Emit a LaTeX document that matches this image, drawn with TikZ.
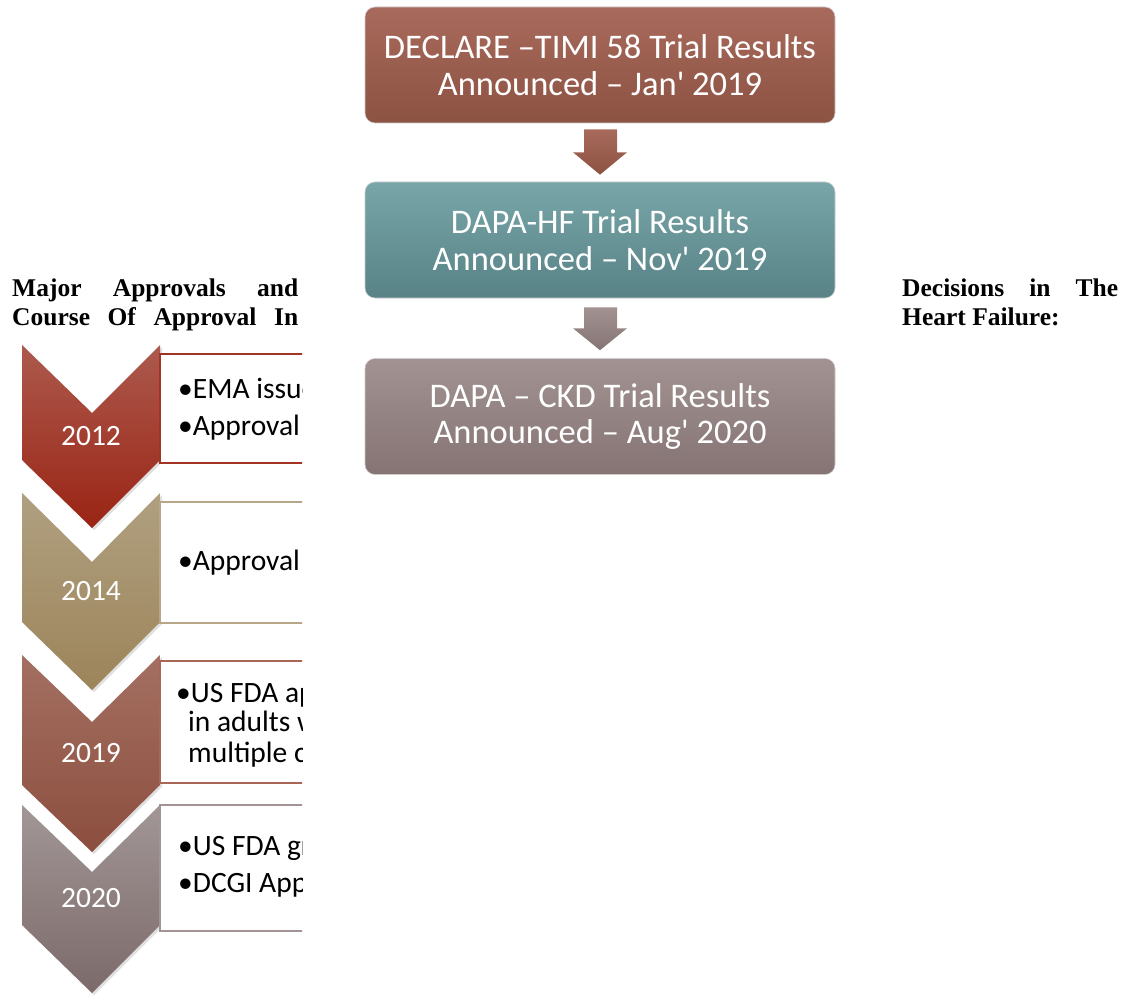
\documentclass[tikz,border=0pt]{standalone}
\usepackage{fontspec}
\setmainfont{Liberation Serif}
\newfontfamily\calf{Carlito}
\usetikzlibrary{calc,shadows}
\definecolor{chAt}{HTML}{AC5A4E}\definecolor{chAb}{HTML}{9A2414}
\definecolor{chBt}{HTML}{B0A080}\definecolor{chBb}{HTML}{9C845A}
\definecolor{chCt}{HTML}{A47062}\definecolor{chCb}{HTML}{8C4E3E}
\definecolor{chDt}{HTML}{A29696}\definecolor{chDb}{HTML}{7C6A6A}
\definecolor{bxA}{HTML}{A33424}\definecolor{bxB}{HTML}{B8A688}
\definecolor{bxC}{HTML}{A86656}\definecolor{bxD}{HTML}{A09494}
\definecolor{flAt}{HTML}{A86A5C}\definecolor{flAb}{HTML}{8C5242}
\definecolor{flBt}{HTML}{78A6A8}\definecolor{flBb}{HTML}{588286}
\definecolor{flCt}{HTML}{A29292}\definecolor{flCb}{HTML}{867474}
\tikzset{
  chev/.style={drop shadow={opacity=0.25,shadow xshift=2pt,shadow yshift=-2pt}},
  year/.style={font=\calf\fontsize{29.5}{34}\selectfont, text=white, inner sep=0pt, anchor=base},
  line/.style={font=\calf\fontsize{29.5}{34}\selectfont, text=black, inner sep=0pt, anchor=base west},
  tbox/.style={line width=1.2pt, fill=white},
  flow/.style={rounded corners=10pt, minimum width=470pt, minimum height=116pt, text=white,
    align=center, font=\calf\fontsize{34.5}{36.5}\selectfont, draw=white!60!gray, line width=0.6pt},
  title/.style={font=\bfseries\fontsize{25.5}{29}\selectfont, inner sep=0pt, anchor=base west},
}
\begin{document}
\begin{tikzpicture}[x=1pt,y=-1pt]
\useasboundingbox (0,0) rectangle (1127,995);
\fill[white] (0,0) rectangle (1127,995);

% title
\node[title] (t1) at (12,296) {\makebox[286pt][s]{Major Approvals and}};
\node[title] (t2) at (12,325) {\makebox[286pt][s]{Course Of Approval In}};
\node[title] (t3) at (902,296) {\makebox[216pt][s]{Decisions in The}};
\node[title] (t4) at (902,325) {Heart Failure:};

% left timeline
\begin{scope}
\clip (0,330) rectangle (302,995);
% chevrons
\path[chev, top color=chDt, bottom color=chDb] (22,805) -- (92,872) -- (160,805) -- (160,925) -- (92,993) -- (22,925) -- cycle;
\path[chev, top color=chCt, bottom color=chCb] (22,655) -- (92,722) -- (160,655) -- (160,785) -- (92,852) -- (22,785) -- cycle;
\path[chev, top color=chBt, bottom color=chBb] (22,493) -- (92,562) -- (160,493) -- (160,622) -- (92,690) -- (22,622) -- cycle;
\path[chev, top color=chAt, bottom color=chAb] (22,345) -- (92,413) -- (160,345) -- (160,460) -- (92,528) -- (22,460) -- cycle;
% text boxes
\draw[tbox, draw=bxA] (160,354) rectangle (340,463);
\draw[tbox, draw=bxB] (160,502) rectangle (340,623);
\draw[tbox, draw=bxC] (160,661) rectangle (340,783);
\draw[tbox, draw=bxD] (160,805) rectangle (340,931);
% years
\node[year] (y1) at (91,445) {2012};
\node[year] (y2) at (91,600) {2014};
\node[year] (y3) at (91,762) {2019};
\node[year] (y4) at (91,907) {2020};
% texts
\node[line] (a1) at (178,398) {•EMA issue};
\node[line] (a2) at (178,435) {•Approval};
\node[line] (b1) at (178,570) {•Approval};
\node[line] (c1) at (176,702) {•US FDA ap};
\node[line] (c2) at (188,731) {in adults w};
\node[line] (c3) at (188,762) {multiple c};
\node[line] (d1) at (178,855) {•US FDA gr};
\node[line] (d2) at (178,892) {•DCGI App};
\end{scope}

% flowchart
\node[flow, top color=flAt, bottom color=flAb] (A) at (600,65) {DECLARE –TIMI 58 Trial Results\\Announced – Jan' 2019};
\node[flow, top color=flBt, bottom color=flBb] (B) at (600,240) {DAPA-HF Trial Results\\Announced – Nov' 2019};
\node[flow, top color=flCt, bottom color=flCb] (C) at (600,416.5) {DAPA – CKD Trial Results\\Announced – Aug' 2020};

\path[top color=flAt, bottom color=flAb]
  ($(A.south)+(-16,6)$) -- ($(A.south)+(17,6)$) -- ($(A.south)+(17,29)$) -- ($(A.south)+(27,29)$)
  -- ($(B.north)+(0,-7)$) -- ($(A.south)+(-27,29)$) -- ($(A.south)+(-16,29)$) -- cycle;
\path[top color=flCt, bottom color=flCb]
  ($(B.south)+(-16,9)$) -- ($(B.south)+(17,9)$) -- ($(B.south)+(17,30)$) -- ($(B.south)+(27,30)$)
  -- ($(C.north)+(0,-8)$) -- ($(B.south)+(-27,30)$) -- ($(B.south)+(-16,30)$) -- cycle;
\end{tikzpicture}
\end{document}
